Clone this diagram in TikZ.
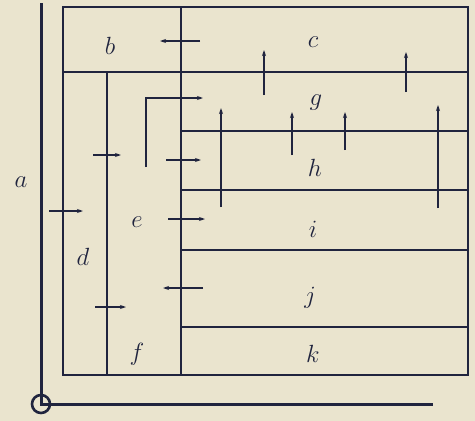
\documentclass[tikz,border=0pt]{standalone}
\usetikzlibrary{arrows.meta}
\definecolor{paper}{RGB}{234,228,206}
\definecolor{ink}{RGB}{32,36,62}
\begin{document}
\begin{tikzpicture}[x=1pt,y=-1pt,
  axisline/.style={draw=ink,line width=3pt},
  border/.style={draw=ink,line width=2.4pt},
  inner/.style={draw=ink,line width=1.4pt},
  arr/.style={draw=ink,line width=1.1pt,-{Stealth[length=6pt,width=4pt]}},
  lbl/.style={text=ink,font=\fontsize{24}{24}\selectfont,inner sep=0pt}]
\fill[paper] (0,0) rectangle (475,421);
\useasboundingbox (0,0) rectangle (475,421);
% axes
\draw[axisline] (41,3) -- (41,404) -- (433,404);
\draw[ink,line width=2.6pt] (41,404) circle (9);
% outer box
\draw[border] (63,7) rectangle (468,375);
% inner lines
\draw[inner] (63,72) -- (468,72);
\draw[inner] (181,7) -- (181,375);
\draw[inner] (107,72) -- (107,375);
\draw[inner] (181,131) -- (468,131);
\draw[inner] (181,190) -- (468,190);
\draw[inner] (181,250) -- (468,250);
\draw[inner] (181,327) -- (468,327);
% arrows
\draw[arr] (200,41) -- (160,41);
\draw[arr] (264,95) -- (264,50);
\draw[arr] (406,92) -- (406,52);
\draw[arr] (292,155) -- (292,112);
\draw[arr] (345,150) -- (345,112);
\draw[arr] (438,208) -- (438,105);
\draw[arr] (221,207) -- (221,108);
\draw[arr] (146,167) |- (203,98);
\draw[arr] (166,160) -- (201,160);
\draw[arr] (93,155) -- (121,155);
\draw[arr] (49,211) -- (83,211);
\draw[arr] (168,219) -- (205,219);
\draw[arr] (203,288) -- (163,288);
\draw[arr] (95,307) -- (126,307);
% labels
\node[lbl] (la) at (21,182) {$a$};
\node[lbl] (lb) at (110,46) {$b$};
\node[lbl] (lc) at (313,42) {$c$};
\node[lbl] (ld) at (83,257) {$d$};
\node[lbl] (le) at (137,222) {$e$};
\node[lbl] (lf) at (137,354) {$f$};
\node[lbl] (lg) at (316,103) {$g$};
\node[lbl] (lh) at (315,168) {$h$};
\node[lbl] (li) at (313,229) {$i$};
\node[lbl] (lj) at (310,298) {$j$};
\node[lbl] (lk) at (313,354) {$k$};
\end{tikzpicture}
\end{document}
